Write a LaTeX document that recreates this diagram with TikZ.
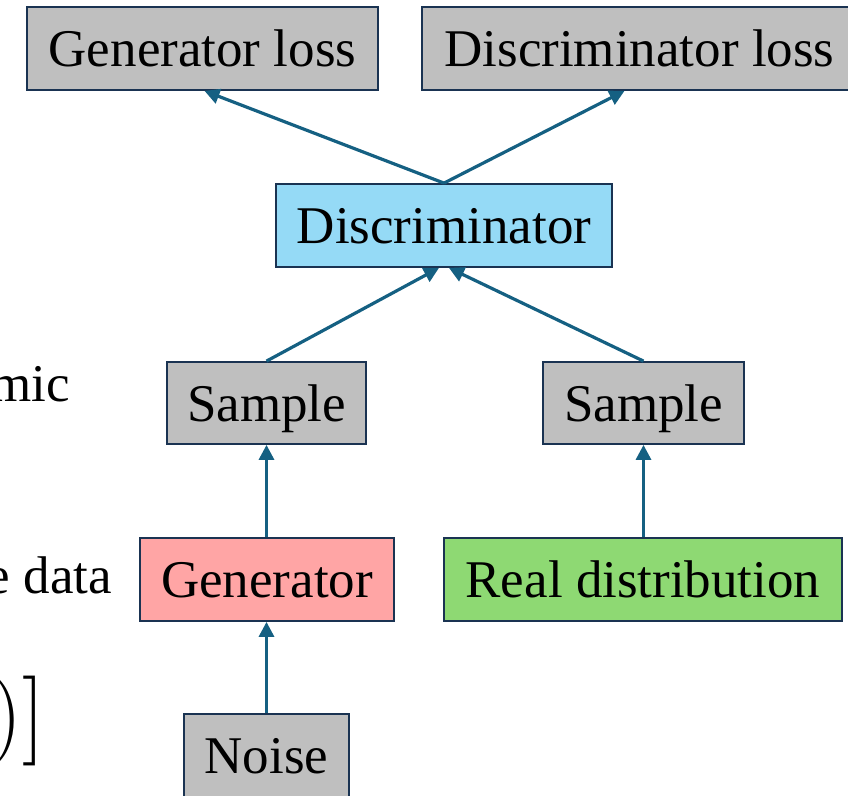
\documentclass[tikz,border=0pt]{standalone}
\usepackage{fontspec}
\setmainfont{Liberation Serif}
\newfontfamily\lmfont{Latin Modern Roman}
\usetikzlibrary{arrows.meta}
\definecolor{boxgray}{HTML}{BFBFBF}
\definecolor{boxblue}{HTML}{95DAF6}
\definecolor{boxpink}{HTML}{FFA5A5}
\definecolor{boxgreen}{HTML}{8ED973}
\definecolor{edgecol}{HTML}{1A3352}
\definecolor{arrowcol}{HTML}{156082}
\tikzset{
  box/.style={draw=edgecol, line width=1.8pt, inner sep=0pt, minimum height=83pt,
    text height=43pt, text depth=7pt,
    font=\fontsize{53}{60}\selectfont, text=black},
  flow/.style={draw=arrowcol, line width=3.2pt,
    -{Triangle[length=15pt,width=15pt]}},
  sidetext/.style={font=\fontsize{53}{60}\selectfont, inner sep=0pt}
}
\begin{document}
\begin{tikzpicture}[x=1pt,y=-1pt]
\useasboundingbox (0,0) rectangle (848,795);
\node[box, fill=boxgray, minimum width=351pt] (gl) at (202.5,48.5) {Generator loss};
\node[box, fill=boxgray, minimum width=435pt] (dl) at (639.5,48.5) {Discriminator loss};
\node[box, fill=boxblue, minimum width=336pt] (disc) at (444,225.5) {Discriminator};
\node[box, fill=boxgray, minimum width=199pt, minimum height=82pt] (s1) at (266.5,403) {Sample};
\node[box, fill=boxgray, minimum width=201pt, minimum height=82pt] (s2) at (643.5,403) {Sample};
\node[box, fill=boxpink, minimum width=254pt] (gen) at (267,579.5) {Generator};
\node[box, fill=boxgreen, minimum width=398pt] (real) at (643,579.5) {Real distribution};
\node[box, fill=boxgray, minimum width=165pt] (noise) at (266.5,755.5) {Noise};

\node[sidetext, anchor=base east] (t1) at (70,401) {mic};
\node[sidetext, anchor=base east] (t2) at (112,593) {e data};
\node[font=\lmfont\fontsize{90}{90}\selectfont, inner sep=0pt, anchor=base east] (t3) at (45,743) {)]};

\draw[flow] (disc.north) -- ([xshift=2pt]gl.south);
\draw[flow] (disc.north) -- ([xshift=-15pt]dl.south);
\draw[flow] (s1.north) -- ([xshift=-5pt]disc.south);
\draw[flow] (s2.north) -- ([xshift=5pt]disc.south);
\draw[flow] (gen.north -| s1.south) -- (s1.south);
\draw[flow] (real.north -| s2.south) -- (s2.south);
\draw[flow] (noise.north) -- (gen.south -| noise.north);
\end{tikzpicture}
\end{document}
